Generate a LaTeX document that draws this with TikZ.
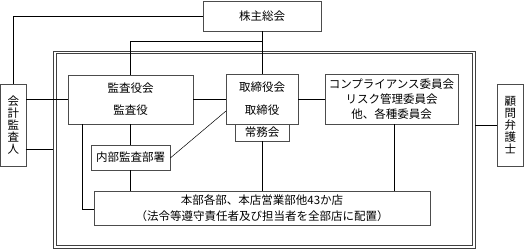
\documentclass[tikz,border=0pt]{standalone}
\usepackage{fontspec}
\newfontfamily\jp{Noto Sans CJK JP}
\begin{document}
\begin{tikzpicture}[x=1pt,y=-1pt,
  box/.style={draw=black!70, line width=0.6pt, inner sep=0pt, align=center,
    font=\jp\fontsize{11.5}{15}\selectfont},
  framebox/.style={draw=black!75, line width=0.6pt, inner sep=0pt},
  conn/.style={draw=black, line width=0.5pt}]
\useasboundingbox (0,0) rectangle (524,249);
% frame (double line)
\node[framebox, minimum width=421.5pt, minimum height=197pt] (frame) at (264.25,149.5) {};
\node[framebox, minimum width=416pt, minimum height=191.5pt] (frameinner) at (264.25,149.5) {};
% nodes
\node[box, minimum width=118pt, minimum height=30pt] (kabu) at (262,16) {株主総会};
\node[box, minimum width=25.5pt, minimum height=82pt, font=\jp\fontsize{11.5}{12.2}\selectfont] (kaikei) at (13.25,125) {会\\計\\監\\査\\人};
\node[box, minimum width=25.5pt, minimum height=82pt, font=\jp\fontsize{11.5}{12.2}\selectfont] (komon) at (510.25,125) {顧\\問\\弁\\護\\士};
\node[box, minimum width=125pt, minimum height=49pt] (kansa) at (130.5,99.5) {監査役会\\[7pt]監査役};
\node[box, minimum width=72pt, minimum height=50pt] (tori) at (262,99) {取締役会\\[8pt]取締役};
\node[box, minimum width=54pt, minimum height=17pt] (joumu) at (262,132.5) {常務会};
\node[box, minimum width=133pt, minimum height=50pt] (comp) at (391.5,99) {コンプライアンス委員会\\リスク管理委員会\\他、各種委員会};
\node[box, minimum width=79pt, minimum height=25pt] (naibu) at (130.5,157.5) {内部監査部署};
\node[box, minimum width=336pt, minimum height=34pt] (honbu) at (262,208) {本部各部、本店営業部他43か店\\[1pt]（法令等遵守責任者及び担当者を全部店に配置）};
% helper coordinates
\coordinate (j1) at (262,41);
\coordinate (k2) at (25.5,149);
\coordinate (tl) at (226,111);
\coordinate (ks) at (82,124);
% connectors
\draw[conn] (kabu.west) -| (kaikei.north);
\draw[conn] (kabu.south) -- (tori.north);
\draw[conn] (kansa.north) |- (j1);
\draw[conn] (kansa.west -| kaikei.east) -- (kansa.west);
\draw[conn] (k2) -- (k2 -| frame.west);
\draw[conn] (komon.west) -- (komon.west -| frame.east);
\draw[conn] (kansa.east) -- (kansa.east -| tori.west);
\draw[conn] (tori.east) -- (tori.east -| comp.west);
\draw[conn] (joumu.south) -- (joumu.south |- honbu.north);
\draw[conn] ([xshift=2.5pt]comp.south) -- ([xshift=2.5pt]comp.south |- honbu.north);
\draw[conn] (kansa.south) -- (naibu.north);
\draw[conn] (naibu.south) -- (naibu.south |- honbu.north);
\draw[conn] ([yshift=-0.5pt]naibu.east) -- (tl);
\draw[conn] (ks) |- ([yshift=-1pt]honbu.west);
\end{tikzpicture}
\end{document}
